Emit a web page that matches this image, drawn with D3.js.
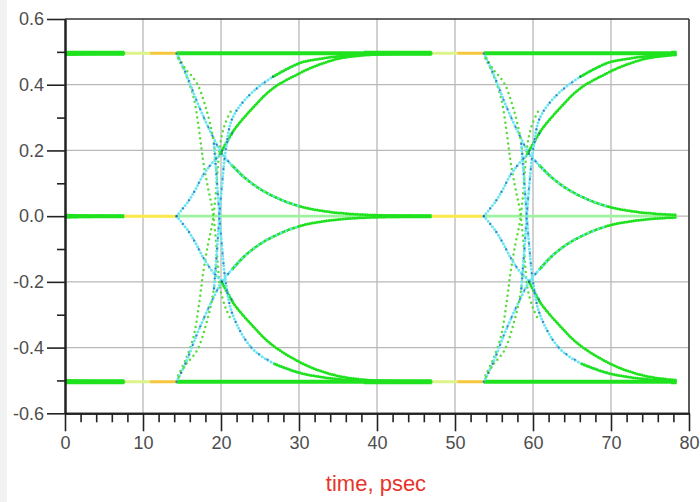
<!DOCTYPE html>
<html>
<head>
<meta charset="utf-8">
<script src="https://cdn.jsdelivr.net/npm/d3@7"></script>
<style>
  html, body { margin: 0; padding: 0; background: #ffffff; }
  svg { display: block; }
</style>
</head>
<body>
<svg id="chart" width="700" height="502"></svg>
<script>
// ---- axis ticks ----
const xTicks = [0, 10, 20, 30, 40, 50, 60, 70, 80];
const xMinorTicks = d3.range(0, 80, 2).filter(d => d % 10 !== 0);
const yTicks = [-0.6, -0.4, -0.2, 0.0, 0.2, 0.4, 0.6];
const yMinorTicks = [-0.5, -0.3, -0.1, 0.1, 0.3, 0.5];

// ---- signal levels and timing (psec) ----
const levels = { high: 0.496, mid: 0.0, low: -0.504 };
const edgeTimes = [-25.1, 14.3, 53.7];   // start of each symbol transition
const recordEnd = 78.4;                  // last simulated sample
const settledAt = 32.7;                  // time after edge when traces have merged
const quietSplit = 36.0;                 // density colour change on the flat levels
const nextEdgeAt = 39.4;                 // time after edge of the following transition

// ---- transition traces: [time after edge (psec), amplitude] ----
const fallHighToMid = [[0,0.495],[1.1,0.44],[2.6,0.35],[3.7,0.29],[4.7,0.24],[5.8,0.19],[7.1,0.155],[8.6,0.12],[10.7,0.083],[13.2,0.052],[15.8,0.03],[18.7,0.016],[21.7,0.008],[25.7,0.003],[29.7,0.001],[32.7,0]];
const riseLowToMid = [[0,-0.504],[1.2,-0.445],[2.6,-0.36],[3.8,-0.295],[4.9,-0.24],[5.8,-0.2],[7.2,-0.16],[8.7,-0.122],[10.7,-0.085],[13.2,-0.053],[15.8,-0.03],[18.7,-0.016],[21.7,-0.008],[25.7,-0.003],[29.7,-0.001],[32.7,0]];
const riseMidToHigh = [[0,0],[1.5,0.045],[2.4,0.08],[3.4,0.125],[4.5,0.16],[5.6,0.19],[7.3,0.26],[9.8,0.33],[12.4,0.39],[15.8,0.435],[17.1,0.45],[20.5,0.478],[23.7,0.489],[27.7,0.494],[32.7,0.496]];
const fallMidToLow = [[0,0],[1.5,-0.045],[2.4,-0.08],[3.4,-0.125],[4.5,-0.165],[5.8,-0.2],[7.3,-0.265],[9.8,-0.335],[12.0,-0.387],[14.5,-0.427],[17.2,-0.46],[20.5,-0.485],[23.7,-0.497],[27.7,-0.502],[32.7,-0.504]];
const fallHighToLow = [[0,0.495],[1.1,0.45],[2.6,0.405],[3.9,0.318],[4.8,0.22],[5.2,0.1],[5.5,0],[5.85,-0.1],[6.3,-0.2],[7.2,-0.3],[9.6,-0.40],[12.6,-0.45],[15.8,-0.477],[18.7,-0.49],[21.7,-0.498],[25.7,-0.502],[32.7,-0.504]];
const riseLowToHigh = [[0,-0.504],[1.1,-0.455],[2.6,-0.41],[3.9,-0.32],[4.8,-0.22],[5.2,-0.1],[5.5,0],[5.85,0.1],[6.3,0.2],[7.2,0.3],[9.4,0.37],[12.4,0.425],[15.8,0.466],[18.7,0.48],[21.7,0.489],[25.7,0.494],[32.7,0.496]];
const fastFallHighToLow = [[0.2,0.48],[1.2,0.43],[2.2,0.36],[2.9,0.26],[3.4,0.17],[4.0,0.09],[4.6,0.02],[5.0,-0.06],[5.3,-0.15],[5.6,-0.22],[6.3,-0.28],[7.1,-0.32]];
const fastRiseLowToHigh = [[0.2,-0.485],[1.2,-0.435],[2.2,-0.365],[2.9,-0.265],[3.4,-0.175],[4.0,-0.09],[4.6,-0.02],[5.0,0.06],[5.3,0.15],[5.6,0.22],[6.2,0.28],[7.2,0.33]];

// ---- drawing styles ----
const col = {
  green: "#1fe21f", paleGreen: "#9ef29e", cyan: "#6be5f1", blue: "#2a4fb0",
  sparseGreen: "#58dc3a", yellowGreen: "#dcf38a", orange: "#f8c63c", yellow: "#fbe94a",
  grid: "#b9b9b9", axis: "#222222", text: "#4d4d4d", title: "#e6352c"
};
const dense  = { w: 3.0, dash: "0 2.4" };
const dotted = { w: 3.0, dash: "0 3.4" };
const sparse = { w: 2.5, dash: "0 5.2" };
// colour bands per trace: [from, to (time after edge), colour, stroke]
const traceStyles = [
  { pts: fastFallHighToLow, bands: [[0, 8, col.sparseGreen, sparse]] },
  { pts: fastRiseLowToHigh, bands: [[0, 8, col.sparseGreen, sparse]] },
  { pts: fallHighToMid, bands: [[0, 7.5, col.cyan, dotted], [7.5, 33, col.green, dense], [6, 15, col.cyan, sparse]] },
  { pts: riseLowToMid,  bands: [[0, 7.5, col.cyan, dotted], [7.5, 33, col.green, dense], [6, 15, col.cyan, sparse]] },
  { pts: riseMidToHigh, bands: [[0, 6, col.cyan, dotted], [6, 33, col.green, dense]] },
  { pts: fallMidToLow,  bands: [[0, 6, col.cyan, dotted], [6, 33, col.green, dense]] },
  { pts: fallHighToLow, bands: [[0, 5.0, col.sparseGreen, sparse], [5.0, 13, col.cyan, dotted], [13, 33, col.green, dense]] },
  { pts: riseLowToHigh, bands: [[0, 5.0, col.sparseGreen, sparse], [5.0, 13, col.cyan, dotted], [13, 33, col.green, dense]] }
];
// darker high-density dots near the start of the transitions
const blueBands = [
  { pts: fallHighToMid, from: 0, to: 6 }, { pts: riseLowToMid, from: 0, to: 6 },
  { pts: riseMidToHigh, from: 0, to: 6 }, { pts: fallMidToLow, from: 0, to: 6 },
  { pts: fallHighToLow, from: 5.0, to: 10 }, { pts: riseLowToHigh, from: 5.0, to: 10 }
];

// ---- layout ----
const svg = d3.select("#chart");
const W = 700, H = 502;
const plot = { left: 65, right: 689, top: 19, bottom: 413.3 };

svg.append("rect").attr("width", W).attr("height", H).attr("fill", "#ffffff");
svg.append("rect").attr("width", 7).attr("height", H).attr("fill", "#f2f2f2");

const x = d3.scaleLinear().domain([0, 80]).range([plot.left, plot.right]);
const y = d3.scaleLinear().domain([-0.6, 0.6]).range([plot.bottom, plot.top]);

// grid
const grid = svg.append("g");
grid.selectAll("line.vx").data(xTicks.slice(1, -1)).join("line")
  .attr("x1", d => x(d)).attr("x2", d => x(d)).attr("y1", plot.top).attr("y2", plot.bottom)
  .attr("stroke", col.grid).attr("stroke-width", 1.3);
grid.selectAll("line.hy").data(yTicks.slice(1, -1)).join("line")
  .attr("y1", d => y(d)).attr("y2", d => y(d)).attr("x1", plot.left).attr("x2", plot.right)
  .attr("stroke", col.grid).attr("stroke-width", 1.3);

// clip to the simulated record
svg.append("clipPath").attr("id", "rec").append("rect")
  .attr("x", x(0)).attr("y", plot.top).attr("width", x(recordEnd) - x(0)).attr("height", plot.bottom - plot.top);
const data = svg.append("g").attr("clip-path", "url(#rec)");

const line = d3.line().x(d => x(d[0])).y(d => y(d[1])).curve(d3.curveCatmullRom.alpha(0.5));

// points of a trace between two times, keeping one neighbour on each side
function slice(pts, from, to) {
  const out = [];
  for (let i = 0; i < pts.length; i++) {
    const p = pts[i];
    if (p[0] >= from && p[0] <= to) {
      if (!out.length && i > 0) out.push(pts[i - 1]);
      out.push(p);
    } else if (p[0] > to && out.length) { out.push(p); break; }
  }
  return out;
}
function shift(pts, e) { return pts.map(p => [p[0] + e, p[1]]); }

// flat levels: held level after each edge, then the quiet stretch before the next edge
function levelSegment(v, t0, t1, color, width) {
  data.append("line").attr("x1", x(t0)).attr("x2", x(t1)).attr("y1", y(v)).attr("y2", y(v))
    .attr("stroke", color).attr("stroke-width", width);
}
edgeTimes.forEach(e => {
  levelSegment(levels.high, e, e + settledAt, col.green, 4);
  levelSegment(levels.low,  e, e + settledAt, col.green, 4);
  levelSegment(levels.mid,  e, e + settledAt, col.paleGreen, 2.6);
  levelSegment(levels.high, e + settledAt, e + quietSplit, col.yellowGreen, 3);
  levelSegment(levels.low,  e + settledAt, e + quietSplit, col.yellowGreen, 3);
  levelSegment(levels.high, e + quietSplit, e + nextEdgeAt, col.orange, 3);
  levelSegment(levels.low,  e + quietSplit, e + nextEdgeAt, col.orange, 3);
  levelSegment(levels.mid,  e + settledAt, e + nextEdgeAt, col.yellow, 3);
});

// transition traces
edgeTimes.forEach(e => {
  traceStyles.forEach(ts => {
    ts.bands.forEach(([a, b, c, s]) => {
      const seg = slice(ts.pts, a, b);
      if (seg.length < 2) return;
      data.append("path").attr("d", line(shift(seg, e)))
        .attr("fill", "none").attr("stroke", c).attr("stroke-width", s.w)
        .attr("stroke-linecap", "round").attr("stroke-dasharray", s.dash);
    });
  });
  blueBands.forEach(bb => {
    const seg = slice(bb.pts, bb.from, bb.to);
    data.append("path").attr("d", line(shift(seg, e)))
      .attr("fill", "none").attr("stroke", col.blue).attr("stroke-width", 2.2)
      .attr("stroke-linecap", "round").attr("stroke-dasharray", "0 10").attr("opacity", 0.7);
  });
  // thickened merge of traces onto the levels
  [levels.high, levels.low].forEach(v => levelSegment(v, e + 24, e + settledAt, col.green, 5));
  levelSegment(levels.mid, e + 25, e + settledAt, col.green, 4);
});

// frame
svg.append("line").attr("x1", plot.left).attr("x2", plot.right).attr("y1", plot.top).attr("y2", plot.top)
  .attr("stroke", "#333").attr("stroke-width", 1.6);
svg.append("line").attr("x1", plot.right).attr("x2", plot.right).attr("y1", plot.top).attr("y2", plot.bottom)
  .attr("stroke", "#333").attr("stroke-width", 1.6);

// axes
const fmtY = d => d.toFixed(1);
const yAxis = svg.append("g").attr("transform", `translate(${plot.left},0)`)
  .call(d3.axisLeft(y).tickValues(yTicks).tickSize(18).tickSizeOuter(0).tickPadding(3).tickFormat(fmtY));
const yMinor = svg.append("g").attr("transform", `translate(${plot.left},0)`)
  .call(d3.axisLeft(y).tickValues(yMinorTicks).tickSize(8).tickSizeOuter(0).tickFormat(""));
const xAxis = svg.append("g").attr("transform", `translate(0,${plot.bottom})`)
  .call(d3.axisBottom(x).tickValues(xTicks).tickSize(18).tickSizeOuter(0).tickPadding(5).tickFormat(d3.format("d")));
const xMinor = svg.append("g").attr("transform", `translate(0,${plot.bottom})`)
  .call(d3.axisBottom(x).tickValues(xMinorTicks).tickSize(9).tickSizeOuter(0).tickFormat(""));

[yAxis, yMinor, xAxis, xMinor].forEach(g => {
  g.select(".domain").attr("stroke", col.axis).attr("stroke-width", 2);
  g.selectAll(".tick line").attr("stroke", col.axis).attr("stroke-width", 1.6);
  g.selectAll(".tick text").attr("fill", col.text)
    .style("font-family", "'Liberation Sans', Arial, sans-serif").style("font-size", "18px");
});

// axis title
svg.append("text").attr("x", 376).attr("y", 491).attr("text-anchor", "middle")
  .attr("fill", col.title).style("font-family", "'Liberation Sans', Arial, sans-serif").style("font-size", "22px")
  .text("time, psec");
</script>
</body>
</html>
